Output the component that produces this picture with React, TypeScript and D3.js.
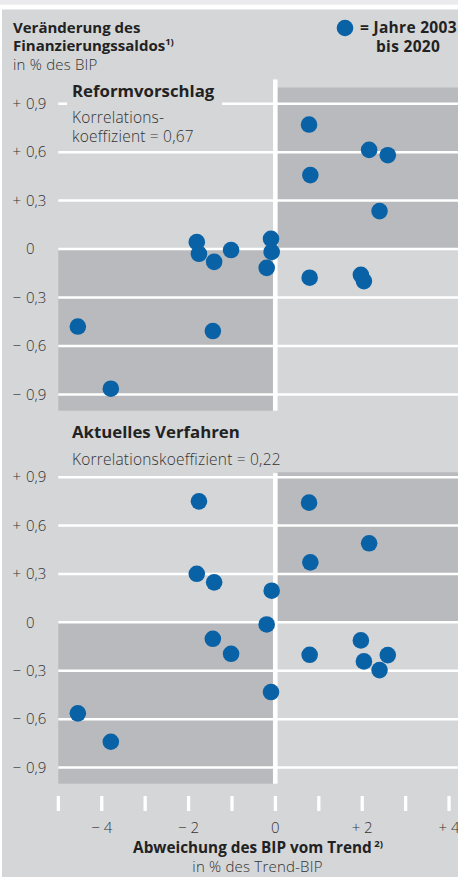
import React from "react";
import * as d3 from "d3";

// GDP deviation from trend (% of trend GDP), years 2003–2020
const gdpGap = [-4.55, -3.79, -1.81, -1.76, -1.41, -1.44, -1.02, -0.2, -0.1, -0.085, 0.776, 0.806, 0.79, 2.16, 2.59, 2.4, 1.97, 2.04];
// Change in fiscal balance (% of GDP)
const reformValues = [-0.479, -0.864, 0.043, -0.029, -0.079, -0.507, -0.006, -0.116, 0.064, -0.017, 0.771, 0.458, -0.177, 0.614, 0.581, 0.235, -0.159, -0.198];
const currentValues = [-0.564, -0.74, 0.301, 0.75, 0.248, -0.102, -0.195, -0.013, -0.432, 0.196, 0.742, 0.372, -0.201, 0.49, -0.203, -0.296, -0.112, -0.242];

const yTicks = [0.9, 0.6, 0.3, 0, -0.3, -0.6, -0.9];
const xTicks = [-5, -4, -3, -2, -1, 0, 1, 2, 3, 4];
const xLabelTicks = [-4, -2, 0, 2, 4];

const BG = "#d5d6d8";
const SHADE = "#b9babd";
const DOT = "#0a62a6";
const TXT = "#333333";
const FONT = "'Open Sans', 'Noto Sans', sans-serif";

const x = d3.scaleLinear().domain([-5, 4]).range([58.3, 449]);

function fmtNum(v: number) {
  return d3.format(".1f")(Math.abs(v)).replace(".", ",");
}

function Panel({ y, values, shadeTop, lineTop }: { y: d3.ScaleLinear<number, number>; values: number[]; shadeTop: number; lineTop: number }) {
  const x0 = x(0);
  return (
    <g>
      <rect x={x0 + 2} y={y(shadeTop)} width={458 - x0 - 2} height={y(0) - y(shadeTop)} fill={SHADE} />
      <rect x={x(-5)} y={y(0)} width={x0 - 2.5 - x(-5)} height={y(-1) - y(0)} fill={SHADE} />
      {yTicks.map((t) => (
        <line key={t} x1={x(-5)} x2={458} y1={y(t)} y2={y(t)} stroke="#fff" strokeWidth={2.5} />
      ))}
      <rect x={x0 - 2.3} y={y(lineTop)} width={4.5} height={y(-1) - y(lineTop)} fill="#fff" />
      {yTicks.map((t) => (
        <g key={"l" + t} fontFamily={FONT} fontSize={15} fill={TXT} fontWeight={300}>
          {t !== 0 && (
            <text x={12.5} y={y(t) + 5.3}>{t > 0 ? "+" : "\u2212"}</text>
          )}
          <text x={26} y={y(t) + 5.3}>{t === 0 ? "0" : fmtNum(t)}</text>
        </g>
      ))}
      {gdpGap.map((g, i) => (
        <circle key={i} cx={x(g)} cy={y(values[i])} r={8.3} fill={DOT} />
      ))}
    </g>
  );
}

export default function App() {
  const yTop = d3.scaleLinear().domain([-1, 1]).range([410.7, 87.5]);
  const yBot = d3.scaleLinear().domain([-1, 1]).range([783.7, 461]);
  return (
    <svg width={458} height={877} style={{ position: "absolute", left: 0, top: 0 }} xmlns="http://www.w3.org/2000/svg">
      <rect x={0} y={0} width={458} height={877} fill="#ffffff" />
      <rect x={0} y={0} width={458} height={4.7} fill="#ebebed" />
      <rect x={2} y={9.5} width={456} height={877 - 9.5} fill={BG} />

      <g fontFamily={FONT} fill="#222">
        <text x={13} y={33} fontSize={15} fontWeight={700}>Veränderung des</text>
        <text x={13} y={51} fontSize={15} fontWeight={700}>
          Finanzierungssaldos<tspan fontSize={9.5} dy={-6}>1)</tspan>
        </text>
        <text x={13} y={70} fontSize={15} fontWeight={300} letterSpacing={0.2} fill={TXT}>in % des BIP</text>
        <circle cx={345} cy={28} r={8.3} fill={DOT} />
        <text x={360} y={33} fontSize={15.5} fontWeight={700} letterSpacing={0.3}>= Jahre 2003</text>
        <text x={376} y={52} fontSize={15.5} fontWeight={700} letterSpacing={0.3}>bis 2020</text>
      </g>

      <Panel y={yTop} values={reformValues} shadeTop={1} lineTop={1.05} />
      <rect x={67} y={84} width={155} height={21} fill={BG} />
      <g fontFamily={FONT} fill="#222">
        <text x={72} y={97} fontSize={16.8} fontWeight={700}>Reformvorschlag</text>
        <text x={72} y={123} fontSize={15.5} fontWeight={300} letterSpacing={0.2} fill={TXT}>Korrelations-</text>
        <text x={72} y={142} fontSize={15.5} fontWeight={300} letterSpacing={0.2} fill={TXT}>koeffizient = 0,67</text>
      </g>

      <Panel y={yBot} values={currentValues} shadeTop={0.93} lineTop={0.925} />
      <g fontFamily={FONT} fill="#222">
        <text x={72} y={438} fontSize={16.8} fontWeight={700}>Aktuelles Verfahren</text>
        <text x={72} y={465} fontSize={15.5} fontWeight={300} letterSpacing={0.2} fill={TXT}>Korrelationskoeffizient = 0,22</text>
      </g>

      {xTicks.map((t) => (
        <rect key={t} x={x(t) - 1.6} y={796} width={3.3} height={15} fill="#fff" />
      ))}
      {xLabelTicks.map((t) => (
        <text key={"x" + t} x={x(t)} y={833} textAnchor="middle" fontFamily={FONT} fontSize={15} fontWeight={300} fill={TXT}>
          {t === 0 ? "0" : (t > 0 ? "+ " : "\u2212 ") + Math.abs(t)}
        </text>
      ))}
      <text x={258} y={853} textAnchor="middle" fontFamily={FONT} fontSize={15.3} fontWeight={700} fill="#222">
        Abweichung des BIP vom Trend<tspan fontSize={9.5} dy={-6}> 2)</tspan>
      </text>
      <text x={257.5} y={872} textAnchor="middle" fontFamily={FONT} fontSize={15} fontWeight={300} letterSpacing={0.2} fill={TXT}>
        in % des Trend-BIP
      </text>
    </svg>
  );
}
